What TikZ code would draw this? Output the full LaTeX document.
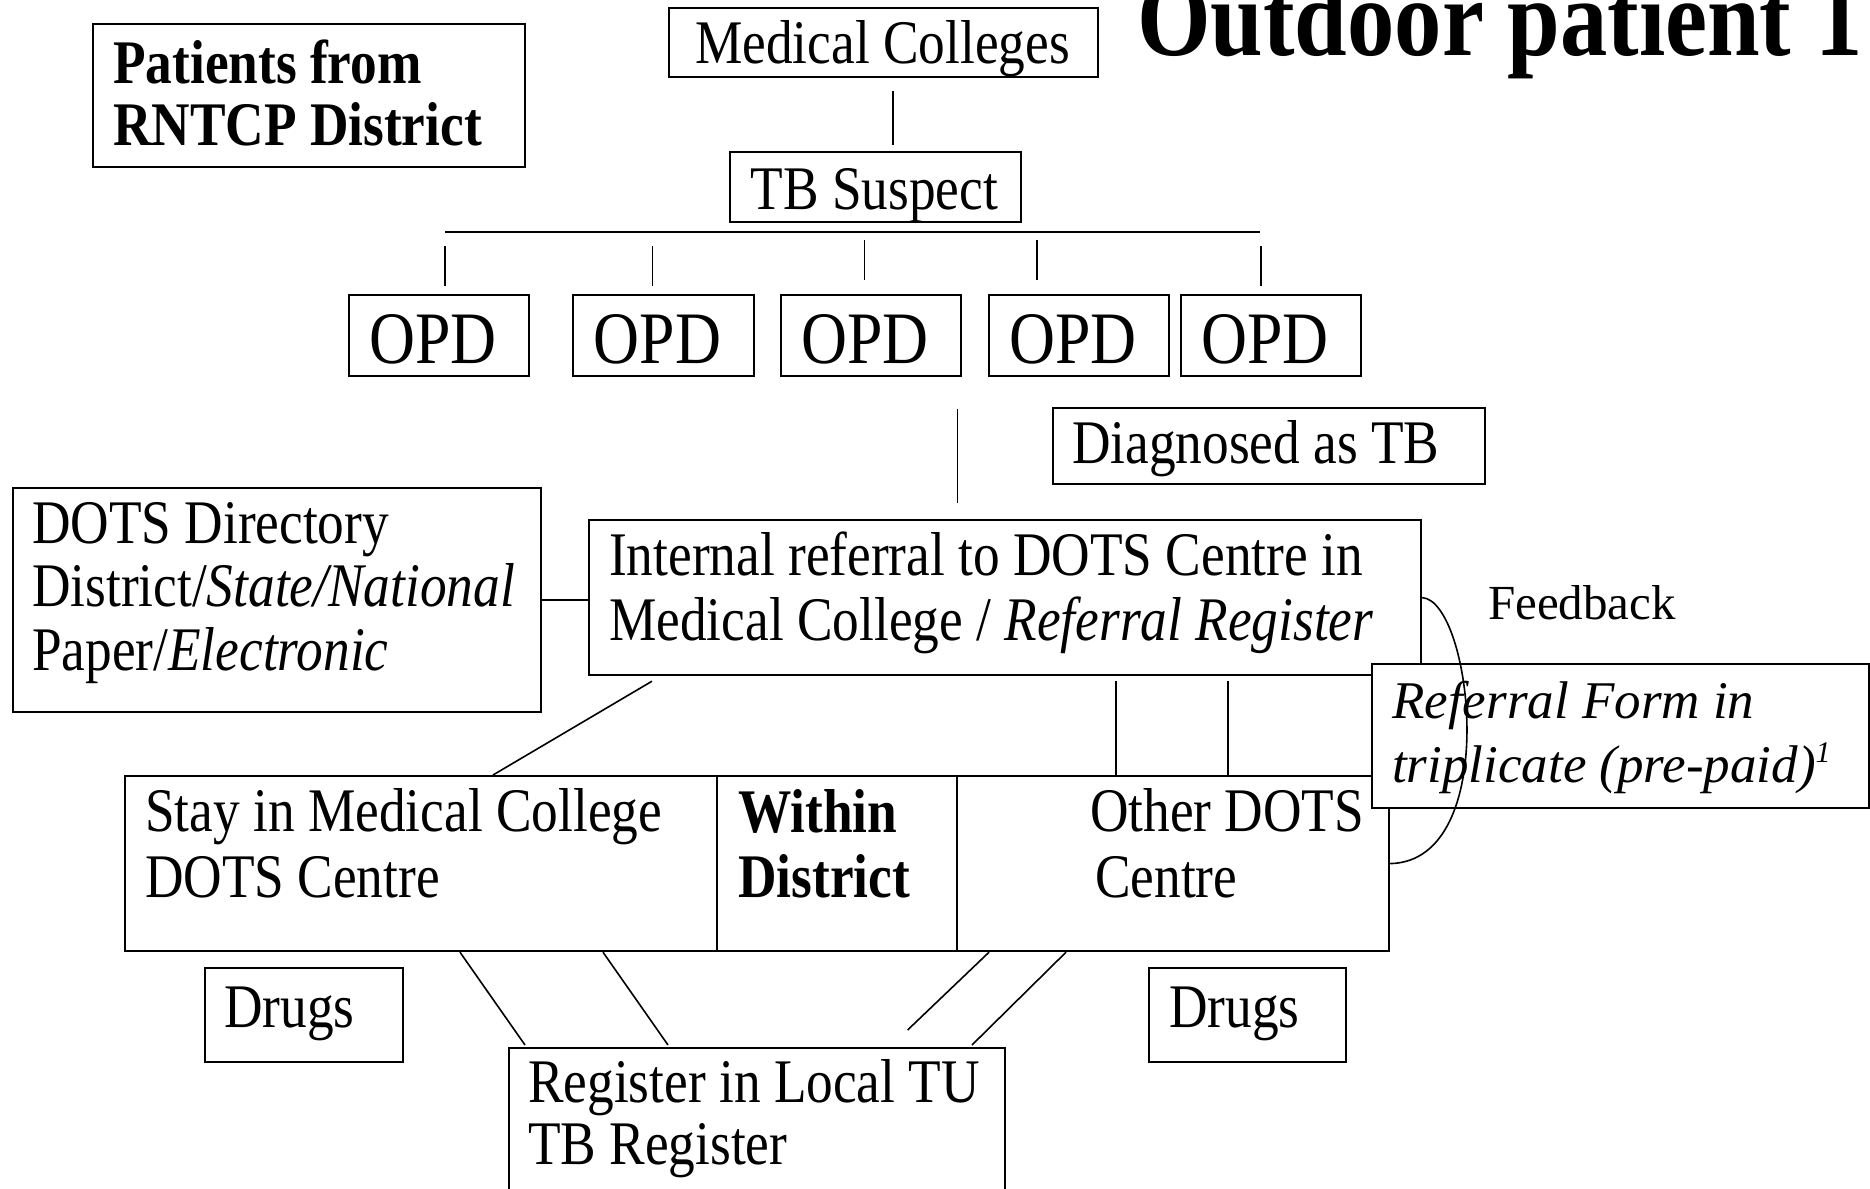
\documentclass[tikz,border=0pt]{standalone}
\usepackage{fontspec}
\setmainfont[FakeStretch=0.86]{Liberation Serif}
\newfontfamily\plainserif{Liberation Serif}
\usetikzlibrary{calc}
\newcommand\mfs{\fontsize{62}{62}\selectfont}
\newcommand\opdfs{\fontsize{74}{74}\selectfont}
\newcommand\ttlfs{\fontsize{110}{110}\selectfont}
\begin{document}
\begin{tikzpicture}[x=1pt,y=-1pt,
  box/.style={draw, line width=2.2pt, inner sep=0pt, anchor=north west},
  txt/.style={inner sep=0pt, anchor=base west, font=\mfs},
  opdtxt/.style={inner sep=0pt, anchor=base, font=\opdfs},
  conn/.style={line width=1.6pt}]
\useasboundingbox (0,0) rectangle (1870,1188);
\fill[white] (0,0) rectangle (1870,1188);

% title
\node[inner sep=0pt, anchor=base west, font=\ttlfs\bfseries] (title) at (1137,56) {Outdoor patient 1};

% top boxes
\node[box, minimum width=432pt, minimum height=143pt] (pat) at (92,23) {};
\node[txt, font=\mfs\bfseries] (pat1) at (113,83.5) {Patients from};
\node[txt, font=\mfs\bfseries] (pat2) at (113,145.5) {RNTCP District};

\node[box, minimum width=429pt, minimum height=69pt] (mc) at (668,7) {};
\node[txt, anchor=base] (mctxt) at (882.5,64) {Medical Colleges};

\node[box, minimum width=291pt, minimum height=70pt] (tb) at (729,151) {};
\node[txt, anchor=base] (tbtxt) at (874.5,209) {TB Suspect};

% OPDs
\node[box, minimum width=180pt, minimum height=81pt] (opd1) at (348,294) {};
\node[box, minimum width=181pt, minimum height=81pt] (opd2) at (572,294) {};
\node[box, minimum width=180pt, minimum height=81pt] (opd3) at (780,294) {};
\node[box, minimum width=180pt, minimum height=81pt] (opd4) at (988,294) {};
\node[box, minimum width=180pt, minimum height=81pt] (opd5) at (1180,294) {};
\foreach \i in {1,...,5}{
  \node[opdtxt] (opdt\i) at ($(opd\i.south)+(-6,-14)$) {OPD};
}

% connectors at top
\draw[conn] ($(mc.south)+(9.5,13)$) -- ($(tb.north)+(17.5,-6)$);
\draw[line width=2.2pt] ($(tb.south)+(-430.5,9)$) -- ($(tb.south)+(384.5,9)$);
\draw[conn] ($(opd1.north)+(6,-48)$) -- ($(opd1.north)+(6,-8)$);
\draw[conn] ($(opd2.north)+(-11,-48)$) -- ($(opd2.north)+(-11,-8)$);
\draw[conn] ($(opd3.north)+(-6.5,-54)$) -- ($(opd3.north)+(-6.5,-14)$);
\draw[conn] ($(opd4.north)+(-42,-54)$) -- ($(opd4.north)+(-42,-14)$);
\draw[conn] ($(opd5.north)+(-10,-48)$) -- ($(opd5.north)+(-10,-8)$);

% diagnosed
\node[box, minimum width=432pt, minimum height=76pt] (diag) at (1052,407) {};
\node[txt] (diagtxt) at (1072,463) {Diagnosed as TB};

% DOTS directory
\node[box, minimum width=528pt, minimum height=224pt] (dd) at (12,487) {};
\node[txt] (dd1) at (32,543) {DOTS Directory};
\node[txt] (dd2) at (32,606) {District/\textit{State/National}};
\node[txt] (dd3) at (32,670) {Paper/\textit{Electronic}};

% internal referral
\node[box, minimum width=832pt, minimum height=155pt] (ir) at (588,519) {};
\node[txt] (ir1) at (609,575) {Internal referral to DOTS Centre in};
\node[txt] (ir2) at (609,640) {Medical College / \textit{Referral Register}};

\draw[conn] ($(opd3.south)+(86.5,32)$) -- ($(ir.north)+(-47.5,-16)$);
\draw[conn] (dd.east) -- (dd.east -| ir.west);

% bottom box
\node[box, minimum width=592pt, minimum height=175pt] (bbL) at (124,775) {};
\node[box, minimum width=240pt, minimum height=175pt] (bbM) at (716,775) {};
\node[box, minimum width=432pt, minimum height=175pt] (bbR) at (956,775) {};
\node[txt] (bl1) at (145,831) {Stay in Medical College};
\node[txt] (bl2) at (145,897) {DOTS Centre};
\node[txt, font=\mfs\bfseries] (bm1) at (738,832) {Within};
\node[txt, font=\mfs\bfseries] (bm2) at (738,897) {District};
\node[txt] (br1) at (1090,831) {Other DOTS};
\node[txt] (br2) at (1095,897) {Centre};

\draw[conn] ($(ir.south west)+(64,5)$) -- ($(bbL.north west)+(369,0)$);
\draw[conn] ($(ir.south west)+(528,5)$) -- ($(bbR.north west)+(160,0)$);
\draw[conn] ($(ir.south west)+(640,5)$) -- ($(bbR.north west)+(272,0)$);

% drugs
\node[box, minimum width=198pt, minimum height=94pt] (drugL) at (204,967) {};
\node[txt] (drugLt) at (224,1027) {Drugs};
\node[box, minimum width=197pt, minimum height=94pt] (drugR) at (1148,967) {};
\node[txt] (drugRt) at (1169,1027) {Drugs};

% register
\node[box, minimum width=496pt, minimum height=160pt] (reg) at (508,1047) {};
\node[txt] (reg1) at (528,1102) {Register in Local TU};
\node[txt] (reg2) at (528,1164) {TB Register};

\draw[conn] ($(bbL.south west)+(336,0)$) -- ($(reg.north west)+(17,-2)$);
\draw[conn] ($(bbL.south west)+(479,0)$) -- ($(reg.north west)+(160,-2)$);
\draw[conn] ($(bbR.south west)+(33,0)$) -- ($(reg.north west)+(399.6,-17)$);
\draw[conn] ($(bbR.south west)+(110,0)$) -- ($(reg.north west)+(464,-2)$);

% referral form (covers corners)
\node[box, fill=white, minimum width=497pt, minimum height=144pt] (rf) at (1371,663) {};
\node[txt, font=\plainserif\fontsize{53}{53}\selectfont\itshape] (rf1) at (1392,718) {Referral Form in};
\node[txt, font=\plainserif\fontsize{53}{53}\selectfont\itshape] (rf2) at (1392,782) {triplicate (pre-paid)\raisebox{20pt}{\fontsize{30}{30}\selectfont 1}};

% feedback
\node[txt, font=\plainserif\fontsize{49}{49}\selectfont] (fb) at (1488,619) {Feedback};
\draw[conn] (ir.east) .. controls ($(ir.east)+(50,3.5)$) and ($(bbR.east)+(112,-2.5)$) .. (bbR.east);
\end{tikzpicture}
\end{document}
